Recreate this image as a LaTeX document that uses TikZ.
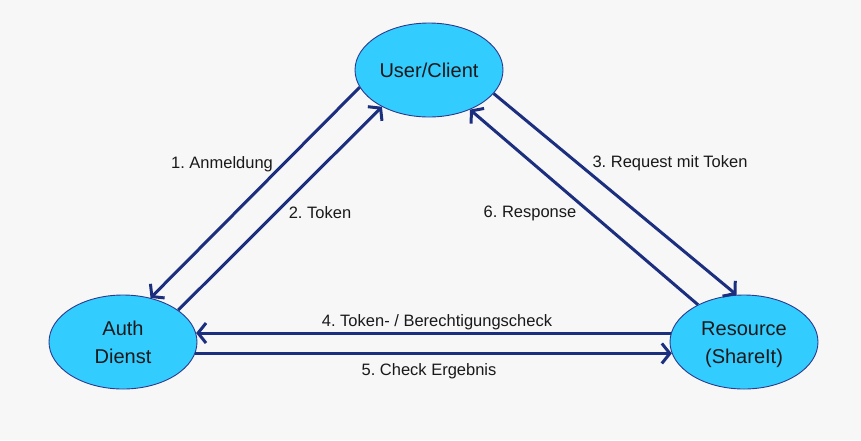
\documentclass[tikz,border=0pt]{standalone}
\usepackage{fontspec}
\setmainfont{Liberation Sans}
\usetikzlibrary{shapes.geometric,arrows.meta}
\frenchspacing
\definecolor{bg}{HTML}{F7F7F7}
\definecolor{fillc}{HTML}{33CCFF}
\definecolor{edgec}{HTML}{2B3A8C}
\definecolor{arrc}{HTML}{1C2E7E}
\tikzset{
  actor/.style={ellipse, draw=edgec, line width=0.9pt, fill=fillc, minimum width=148pt, minimum height=94pt, inner sep=0pt, align=center, font=\fontsize{20}{28}\selectfont, text=black!90},
  flow/.style={draw=arrc, line width=3pt, -{Straight Barb[length=8pt,width=20pt,line width=3pt]}},
  lbl/.style={font=\fontsize{16.5}{20}\selectfont, text=black!90, inner sep=0pt}
}
\begin{document}
\begin{tikzpicture}[x=1pt,y=-1pt]
\path[fill=bg] (0,0) rectangle (861,440);
\useasboundingbox (0,0) rectangle (861,440);
\node[actor] (user) at (429,70) {User/Client};
\node[actor] (auth) at (123,342) {Auth\\Dienst};
\node[actor] (res) at (744,342) {\rule{0pt}{19pt}Resource\\(ShareIt)};
\draw[flow] (user.194) -- (auth.58);
\draw[flow] (auth.30) -- (user.218);
\draw[flow] (user.340) -- (res.99);
\draw[flow] (res.141) -- (user.316);
\draw[flow] (res.173) -- (auth.7);
\draw[flow] (auth.-9) -- (res.189.5);
\node[lbl] (l1) at (222,164) {1. Anmeldung};
\node[lbl] (l2) at (320,213) {2. Token};
\node[lbl] (l3) at (670,163) {3. Request mit Token};
\node[lbl] (l6) at (530,213) {6. Response};
\node[lbl] (l4) at (437,322) {4. Token- / Berechtigungscheck};
\node[lbl] (l5) at (429,371) {5. Check Ergebnis};
\end{tikzpicture}
\end{document}
